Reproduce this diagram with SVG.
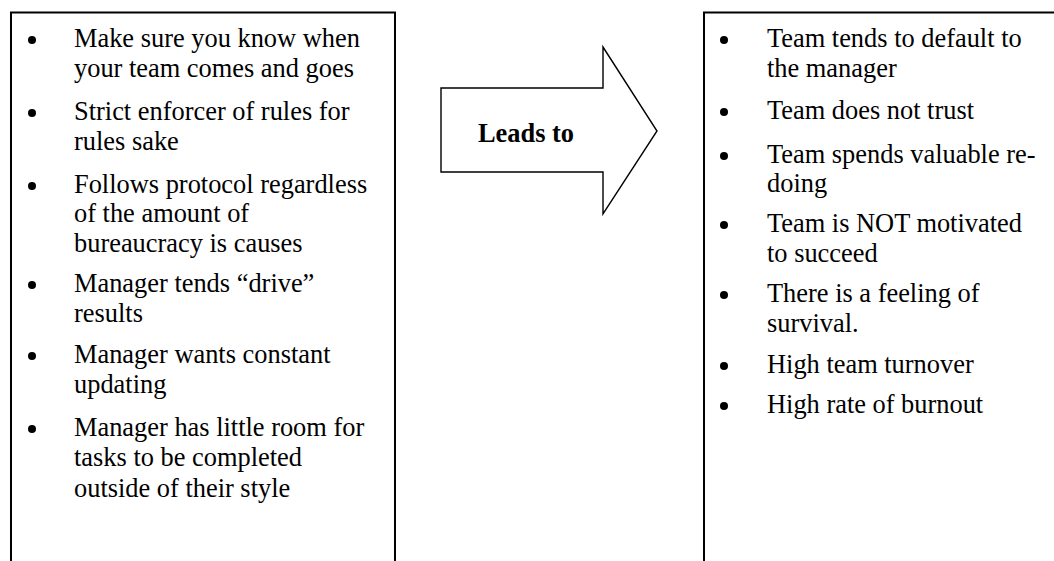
<svg xmlns="http://www.w3.org/2000/svg" width="1054" height="561" viewBox="0 0 1054 561">
  <style>
    .box { fill: none; stroke: #000; stroke-width: 2; }
    .item { font-family: "Liberation Serif", "Times New Roman", serif; font-size: 26.4px; fill: #000; }
    .label { font-family: "Liberation Serif", "Times New Roman", serif; font-size: 26.4px; font-weight: bold; fill: #000; }
    .dot { fill: #000; }
    .arrow { fill: #fff; stroke: #000; stroke-width: 1.4; stroke-linejoin: miter; }
  </style>
  <rect width="1054" height="561" fill="#fff"/>

  <!-- Left column: management behaviours -->
  <g id="causes">
    <rect class="box" x="11" y="12.5" width="384" height="600"/>
    <g class="dot">
      <circle cx="32" cy="40" r="4"/>
      <circle cx="32" cy="113" r="4"/>
      <circle cx="32" cy="186" r="4"/>
      <circle cx="32" cy="285" r="4"/>
      <circle cx="32" cy="356" r="4"/>
      <circle cx="32" cy="429" r="4"/>
    </g>
    <g class="item">
      <text x="74" y="47">Make sure you know when</text>
      <text x="74" y="77">your team comes and goes</text>
      <text x="74" y="120">Strict enforcer of rules for</text>
      <text x="74" y="150">rules sake</text>
      <text x="74" y="193">Follows protocol regardless</text>
      <text x="74" y="222">of the amount of</text>
      <text x="74" y="252">bureaucracy is causes</text>
      <text x="74" y="292">Manager tends “drive”</text>
      <text x="74" y="322">results</text>
      <text x="74" y="363">Manager wants constant</text>
      <text x="74" y="393">updating</text>
      <text x="74" y="436">Manager has little room for</text>
      <text x="74" y="466">tasks to be completed</text>
      <text x="74" y="497">outside of their style</text>
    </g>
  </g>

  <!-- Block arrow between the columns -->
  <g id="leads-to">
    <polygon class="arrow" points="441,88 603,88 603,47 657,131 603,214 603,172 441,172"/>
    <text class="label" x="478" y="142">Leads to</text>
  </g>

  <!-- Right column: effects on the team -->
  <g id="effects">
    <path class="box" d="M1060,12.5 H704 V600"/>
    <g class="dot">
      <circle cx="724" cy="40" r="4"/>
      <circle cx="724" cy="112" r="4"/>
      <circle cx="724" cy="156" r="4"/>
      <circle cx="724" cy="225" r="4"/>
      <circle cx="724" cy="295" r="4"/>
      <circle cx="724" cy="366" r="4"/>
      <circle cx="724" cy="406" r="4"/>
    </g>
    <g class="item">
      <text x="767" y="47">Team tends to default to</text>
      <text x="767" y="77">the manager</text>
      <text x="767" y="119">Team does not trust</text>
      <text x="767" y="163">Team spends valuable re-</text>
      <text x="767" y="192">doing</text>
      <text x="767" y="232">Team is NOT motivated</text>
      <text x="767" y="262">to succeed</text>
      <text x="767" y="302">There is a feeling of</text>
      <text x="767" y="332">survival.</text>
      <text x="767" y="373">High team turnover</text>
      <text x="767" y="413">High rate of burnout</text>
    </g>
  </g>
</svg>
